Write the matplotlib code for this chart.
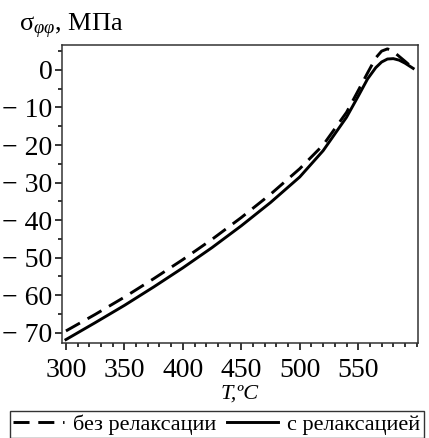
import matplotlib
matplotlib.use("Agg")
import matplotlib.pyplot as plt
from matplotlib.ticker import MultipleLocator

plt.rcParams['font.family'] = ['Liberation Serif', 'DejaVu Serif']
plt.rcParams['mathtext.fontset'] = 'custom'
plt.rcParams['mathtext.rm'] = 'Liberation Serif'
plt.rcParams['mathtext.it'] = 'Liberation Serif:italic'

# без релаксации (штрих)
T_dash = [300, 325, 350, 375, 400, 425, 450, 475, 500, 520, 540, 550, 558, 565, 570, 575, 580, 585, 590, 596]
s_dash = [-69.5, -65.1, -60.5, -55.6, -50.5, -45.1, -39.3, -33.1, -26.3, -20.0, -11.3, -5.5, -0.8, 3.2, 5.0, 5.6, 4.9, 3.6, 2.3, 0.7]

# с релаксацией (сплошная)
T_solid = [300, 325, 350, 375, 400, 425, 450, 475, 500, 520, 540, 550, 558, 565, 570, 575, 580, 585, 590, 597]
s_solid = [-71.8, -67.3, -62.7, -57.8, -52.7, -47.3, -41.5, -35.3, -28.5, -21.5, -12.6, -7.0, -2.4, 0.6, 2.1, 2.9, 3.0, 2.6, 1.8, 0.4]

x_ticks = [300, 350, 400, 450, 500, 550]
y_ticks = [0, -10, -20, -30, -40, -50, -60, -70]
y_labels = ["0", "− 10", "− 20", "− 30", "− 40", "− 50", "− 60", "− 70"]

fig = plt.figure(figsize=(4.29, 4.38), dpi=100)
ax = fig.add_axes([0.1445, 0.217, 0.8295, 0.68])

ax.plot(T_dash, s_dash, color='black', lw=2.1, dashes=(5.5, 3), label='без релаксации')
ax.plot(T_solid, s_solid, color='black', lw=2.1, label='с релаксацией')

ax.set_xlim(296.6, 601)
ax.set_ylim(-72.7, 6.6)
ax.set_xticks(x_ticks)
ax.set_yticks(y_ticks)
ax.set_yticklabels(y_labels)
ax.xaxis.set_minor_locator(MultipleLocator(10))
ax.yaxis.set_minor_locator(MultipleLocator(5))
ax.tick_params(which='both', direction='out', top=False, right=False, labelsize=20, width=1.1)
ax.tick_params(which='major', length=5)
ax.tick_params(axis='x', which='major', pad=6)
ax.tick_params(axis='y', which='major', pad=2)
ax.tick_params(which='minor', length=3)
for sp in ax.spines.values():
    sp.set_linewidth(1.1)
    sp.set_color('#333333')

ax.set_xlabel('T,ºC', fontsize=16, style='italic', labelpad=1)
fig.text(0.045, 0.94, r'σ$_{\varphi\varphi}$, МПа', fontsize=19, va='center', ha='left')

fig.legend(loc='lower center', bbox_to_anchor=(0.505, -0.005), ncol=2, fontsize=16,
           frameon=True, fancybox=False, edgecolor='black', handlelength=2.3,
           handletextpad=0.4, columnspacing=0.5, borderpad=0.15, borderaxespad=0.1)

fig.savefig('out.png', dpi=100)
